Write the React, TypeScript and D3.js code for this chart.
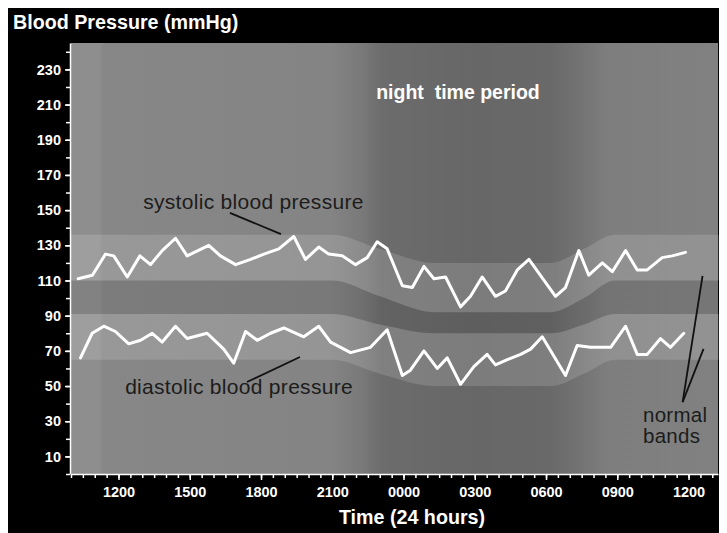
import { useEffect, useRef } from 'react';
import * as d3 from 'd3';

// Readings, time in hours from midnight of day 1 (24 = 0000 of day 2)
const sysTimes = [10.3, 10.9, 11.45, 11.8, 12.37, 12.9, 13.35, 13.84, 14.4, 14.89, 15.8, 16.29, 16.93, 17.56, 18.12, 18.75, 19.38, 19.87, 20.43, 20.85, 21.42, 21.98, 22.47, 22.89, 23.31, 23.95, 24.37, 24.86, 25.28, 25.77, 26.4, 26.82, 27.31, 27.87, 28.29, 28.79, 29.28, 30.4, 30.82, 31.38, 31.8, 32.37, 32.79, 33.35, 33.84, 34.26, 34.89, 35.31, 35.87];
const sysValues = [111, 113, 125, 124, 112, 124, 119, 127, 134, 124, 130, 124, 119, 122, 125, 128, 135, 122, 129, 125, 124, 119, 123, 132, 128, 107, 106, 118, 111, 112, 95, 101, 112, 101, 104, 116, 122, 101, 106, 127, 113, 120, 115, 127, 116, 116, 123, 124, 126];

const diaTimes = [10.4, 10.89, 11.38, 11.87, 12.43, 12.93, 13.42, 13.84, 14.4, 14.89, 15.73, 16.43, 16.85, 17.35, 17.84, 18.4, 18.96, 19.8, 20.43, 20.93, 21.77, 22.61, 23.31, 23.95, 24.29, 24.86, 25.42, 25.84, 26.4, 26.96, 27.52, 27.87, 28.37, 28.93, 29.35, 29.84, 30.82, 31.31, 31.87, 32.72, 33.35, 33.84, 34.26, 34.82, 35.24, 35.8];
const diaValues = [66, 80, 84, 81, 74, 76, 80, 75, 84, 77, 80, 71, 63, 81, 76, 80, 83, 78, 84, 75, 69, 72, 82, 56, 59, 70, 60, 66, 51, 61, 68, 62, 65, 68, 71, 78, 56, 73, 72, 72, 84, 68, 68, 77, 72, 80];

// Normal bands (lower / upper edge), dipping during the night
const bandTimes = [10, 21, 23, 25.3, 30.2, 31.6, 32.9, 37.3];
const sysBandLow = [110, 110, 101, 92, 92, 100, 110, 110];
const sysBandHigh = [136, 136, 128, 120, 120, 128, 136, 136];
const diaBandLow = [65, 65, 57, 50, 50, 57, 65, 65];
const diaBandHigh = [91, 91, 85, 80, 80, 85, 91, 91];

const xTickHours = [12, 15, 18, 21, 24, 27, 30, 33, 36];
const xTickLabels = ['1200', '1500', '1800', '2100', '0000', '0300', '0600', '0900', '1200'];
const yTickValues = [10, 30, 50, 70, 90, 110, 130, 150, 170, 190, 210, 230];

const FONT = '"Liberation Sans", Arial, sans-serif';

const App = () => {
  const svgRef = useRef<SVGSVGElement>(null);

  useEffect(() => {
    if (!svgRef.current) return;
    const svg = d3.select(svgRef.current);
    svg.selectAll('*').remove();

    const width = 719;
    const height = 525;
    const plot = { left: 63, right: 710, top: 35, bottom: 466 };

    const x = d3.scaleLinear().domain([10, 37.24]).range([plot.left, plot.right]);
    const y = d3.scaleLinear().domain([0, 245]).range([plot.bottom, plot.top]);

    svg.append('rect').attr('width', width).attr('height', height).attr('fill', '#000');

    // horizontal background shading, darker through the night
    const grad = svg.append('defs').append('linearGradient')
      .attr('id', 'bg')
      .attr('gradientUnits', 'userSpaceOnUse')
      .attr('x1', plot.left).attr('x2', plot.right)
      .attr('y1', 0).attr('y2', 0);
    [
      [0, '#8e8e8e'], [0.044, '#8e8e8e'], [0.05, '#878787'], [0.4, '#848484'],
      [0.45, '#797979'], [0.48, '#6c6c6c'], [0.62, '#676767'], [0.74, '#696969'],
      [0.79, '#747474'], [0.83, '#7e7e7e'], [1, '#818181']
    ].forEach(([o, c]) => grad.append('stop').attr('offset', o as number).attr('stop-color', c as string));

    svg.append('rect')
      .attr('x', plot.left).attr('y', plot.top)
      .attr('width', plot.right - plot.left).attr('height', plot.bottom - plot.top)
      .attr('fill', 'url(#bg)');

    const bandArea = (lo: number[], hi: number[]) => d3.area<number>()
      .x(d => x(d))
      .y0((_, i) => y(lo[i]))
      .y1((_, i) => y(hi[i]))
      .curve(d3.curveMonotoneX)(bandTimes);

    // gap between the bands is a little darker
    svg.append('path').attr('d', bandArea(diaBandHigh, sysBandLow)).attr('fill', '#000').attr('opacity', 0.08);
    svg.append('path').attr('d', bandArea(sysBandLow, sysBandHigh)).attr('fill', '#fff').attr('opacity', 0.14);
    svg.append('path').attr('d', bandArea(diaBandLow, diaBandHigh)).attr('fill', '#fff').attr('opacity', 0.14);

    // axes
    const styleAxis = (g: d3.Selection<SVGGElement, unknown, null, undefined>) => {
      g.selectAll('path').attr('stroke', '#fff').attr('stroke-width', 1.5);
      g.selectAll('line').attr('stroke', '#fff').attr('stroke-width', 1.5);
      g.selectAll('text').attr('fill', '#fff').attr('font-family', FONT)
        .attr('font-size', 14.5).attr('font-weight', 'bold');
    };

    const yMinor = svg.append('g').attr('transform', `translate(${plot.left - 1},0)`)
      .call(d3.axisLeft(y).tickValues(d3.range(0, 245, 10)).tickSize(4).tickSizeOuter(0).tickFormat(() => ''));
    styleAxis(yMinor);
    const yMajor = svg.append('g').attr('transform', `translate(${plot.left - 1},0)`)
      .call(d3.axisLeft(y).tickValues(yTickValues).tickSize(5).tickSizeOuter(0).tickPadding(4));
    styleAxis(yMajor);
    yMajor.select('.domain').remove();

    const xMinor = svg.append('g').attr('transform', `translate(0,${plot.bottom})`)
      .call(d3.axisBottom(x).tickValues(d3.range(10, 37.3, 0.5)).tickSize(4).tickSizeOuter(0).tickFormat(() => ''));
    styleAxis(xMinor);
    const xMajor = svg.append('g').attr('transform', `translate(0,${plot.bottom})`)
      .call(d3.axisBottom(x).tickValues(xTickHours).tickSize(6).tickPadding(7)
        .tickFormat((_, i) => xTickLabels[i]));
    styleAxis(xMajor);
    xMajor.select('.domain').remove();

    // the two series
    const line = (ts: number[]) => d3.line<number>()
      .x((_, i) => x(ts[i]))
      .y(d => y(d));

    [[sysTimes, sysValues], [diaTimes, diaValues]].forEach(([ts, vs]) => {
      svg.append('path')
        .datum(vs)
        .attr('d', line(ts)(vs))
        .attr('fill', 'none')
        .attr('stroke', '#fff')
        .attr('stroke-width', 3)
        .attr('stroke-linejoin', 'round')
        .attr('stroke-linecap', 'round');
    });

    // annotations
    const pointer = (a: number[], b: number[]) => svg.append('line')
      .attr('x1', x(a[0])).attr('y1', y(a[1]))
      .attr('x2', x(b[0])).attr('y2', y(b[1]))
      .attr('stroke', '#111').attr('stroke-width', 1.8);

    pointer([16.69, 148.4], [18.84, 136.4]);
    pointer([17.41, 52.3], [19.64, 66.5]);
    pointer([36.59, 112.6], [35.75, 40.9]);
    pointer([36.63, 71.1], [35.75, 40.9]);

    const label = (t: string, hx: number, v: number, fill: string, size: number, weight = 'normal', spacing = 0) =>
      svg.append('text')
        .attr('x', x(hx)).attr('y', y(v))
        .attr('fill', fill)
        .attr('font-family', FONT)
        .attr('font-size', size)
        .attr('font-weight', weight)
        .attr('letter-spacing', spacing)
        .style('white-space', 'pre')
        .text(t);

    label('systolic blood pressure', 13.04, 150.4, '#1c1c1c', 21, 'normal', 0.3);
    label('diastolic blood pressure', 12.28, 45.5, '#1c1c1c', 21, 'normal', 0.3);
    label('night  time period', 22.85, 213, '#fff', 19.5, 'bold');
    label('normal', 34.08, 29.6, '#1c1c1c', 20.5, 'normal', 0.3);
    label('bands', 34.08, 17.6, '#1c1c1c', 20.5, 'normal', 0.3);

    svg.append('text')
      .attr('x', 5).attr('y', 21)
      .attr('fill', '#fff').attr('font-family', FONT)
      .attr('font-size', 19.7).attr('font-weight', 'bold')
      .text('Blood Pressure (mmHg)');

    svg.append('text')
      .attr('x', 404).attr('y', 516)
      .attr('text-anchor', 'middle')
      .attr('fill', '#fff').attr('font-family', FONT)
      .attr('font-size', 19.7).attr('font-weight', 'bold')
      .text('Time (24 hours)');
  }, []);

  return <svg ref={svgRef} width={719} height={525} style={{ display: 'block' }} />;
};

export default App;
